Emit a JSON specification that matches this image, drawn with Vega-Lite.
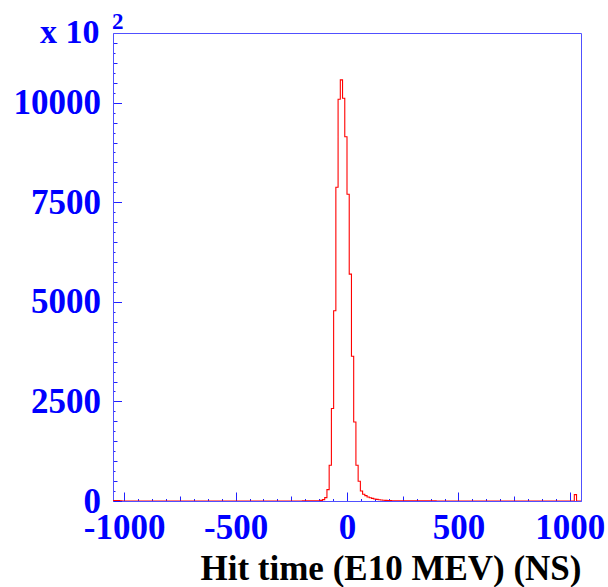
{
  "$schema": "https://vega.github.io/schema/vega-lite/v6.json",
  "width": 468,
  "height": 468,
  "autosize": {"type": "none"},
  "padding": {"left": 113, "top": 33, "right": 27, "bottom": 86},
  "background": "white",
  "title": {"text": "2", "anchor": "start", "frame": "group", "font": "Liberation Serif", "fontWeight": "bold", "fontSize": 23, "color": "#0000ff", "baseline": "alphabetic", "offset": -36, "dx": -1},
  "config": {"view": {"stroke": "#5050ff", "strokeWidth": 1}},
  "data": {"values": [
    {"t": -1050, "n": 12}, {"t": -1040, "n": 12}, {"t": -1030, "n": 10}, {"t": -1020, "n": 8},
    {"t": -1010, "n": 0}, {"t": -200, "n": 3}, {"t": -150, "n": 5}, {"t": -130, "n": 8},
    {"t": -120, "n": 15}, {"t": -110, "n": 35}, {"t": -100, "n": 85}, {"t": -90, "n": 286},
    {"t": -80, "n": 897}, {"t": -70, "n": 2322}, {"t": -60, "n": 4775}, {"t": -50, "n": 7876},
    {"t": -40, "n": 10087}, {"t": -30, "n": 10572}, {"t": -20, "n": 10112}, {"t": -10, "n": 9147},
    {"t": 0, "n": 7700}, {"t": 10, "n": 5697}, {"t": 20, "n": 3636}, {"t": 30, "n": 1985},
    {"t": 40, "n": 897}, {"t": 50, "n": 495}, {"t": 60, "n": 251}, {"t": 70, "n": 168},
    {"t": 80, "n": 136}, {"t": 90, "n": 100}, {"t": 100, "n": 80}, {"t": 110, "n": 65},
    {"t": 120, "n": 50}, {"t": 130, "n": 40}, {"t": 140, "n": 32}, {"t": 150, "n": 25},
    {"t": 160, "n": 20}, {"t": 170, "n": 16}, {"t": 180, "n": 12}, {"t": 190, "n": 10},
    {"t": 200, "n": 8}, {"t": 220, "n": 6}, {"t": 250, "n": 4}, {"t": 300, "n": 2},
    {"t": 400, "n": 0}, {"t": 1020, "n": 160}, {"t": 1030, "n": 0}, {"t": 1050, "n": 0}
  ]},
  "mark": {"type": "line", "interpolate": "step-after", "color": "#ff0000", "strokeWidth": 1.1, "clip": true},
  "encoding": {
    "x": {
      "field": "t", "type": "quantitative",
      "scale": {"domain": [-1050, 1050], "nice": false, "zero": false},
      "axis": {
        "values": [-1000, -937.5, -875, -812.5, -750, -687.5, -625, -562.5, -500, -437.5, -375, -312.5, -250, -187.5, -125, -62.5, 0, 62.5, 125, 187.5, 250, 312.5, 375, 437.5, 500, 562.5, 625, 687.5, 750, 812.5, 875, 937.5, 1000],
        "labelExpr": "datum.value % 500 === 0 ? '' + datum.value : ''",
        "labelFont": "Liberation Serif", "labelFontWeight": "bold", "labelFontSize": 35, "labelColor": "#0000ff",
        "labelPadding": 18, "labelOverlap": false, "labelFlush": false,
        "tickColor": "#2020ff", "tickWidth": 1,
        "tickSize": {"condition": [{"test": "datum.value % 500 === 0", "value": -9}, {"test": "datum.value % 250 === 0", "value": -5}], "value": -2.5},
        "domainColor": "#5050ff", "grid": false,
        "title": "Hit time (E10 MEV) (NS)", "titleFont": "Liberation Serif", "titleFontWeight": "bold", "titleFontSize": 35, "titleColor": "#000000",
        "titleAnchor": "end", "titleAlign": "right", "titleBaseline": "alphabetic", "titleX": 468, "titleY": 78
      }
    },
    "y": {
      "field": "n", "type": "quantitative",
      "scale": {"domain": [0, 11750], "nice": false, "zero": false},
      "axis": {
        "values": [0, 250, 500, 750, 1000, 1250, 1500, 1750, 2000, 2250, 2500, 2750, 3000, 3250, 3500, 3750, 4000, 4250, 4500, 4750, 5000, 5250, 5500, 5750, 6000, 6250, 6500, 6750, 7000, 7250, 7500, 7750, 8000, 8250, 8500, 8750, 9000, 9250, 9500, 9750, 10000, 10250, 10500, 10750, 11000, 11250, 11500],
        "labelExpr": "datum.value % 2500 === 0 ? '' + datum.value : ''",
        "labelFont": "Liberation Serif", "labelFontWeight": "bold", "labelFontSize": 35, "labelColor": "#0000ff",
        "labelPadding": 21, "labelOverlap": false, "labelFlush": false,
        "tickColor": "#2020ff", "tickWidth": 1,
        "tickSize": {"condition": [{"test": "datum.value % 2500 === 0", "value": -8.5}, {"test": "datum.value % 500 === 0", "value": -4}], "value": -2},
        "domainColor": "#5050ff", "grid": false,
        "title": "x 10", "titleFont": "Liberation Serif", "titleFontWeight": "bold", "titleFontSize": 34, "titleColor": "#0000ff",
        "titleAngle": 0, "titleAlign": "right", "titleBaseline": "alphabetic", "titleX": -14, "titleY": 9.5
      }
    }
  }
}
